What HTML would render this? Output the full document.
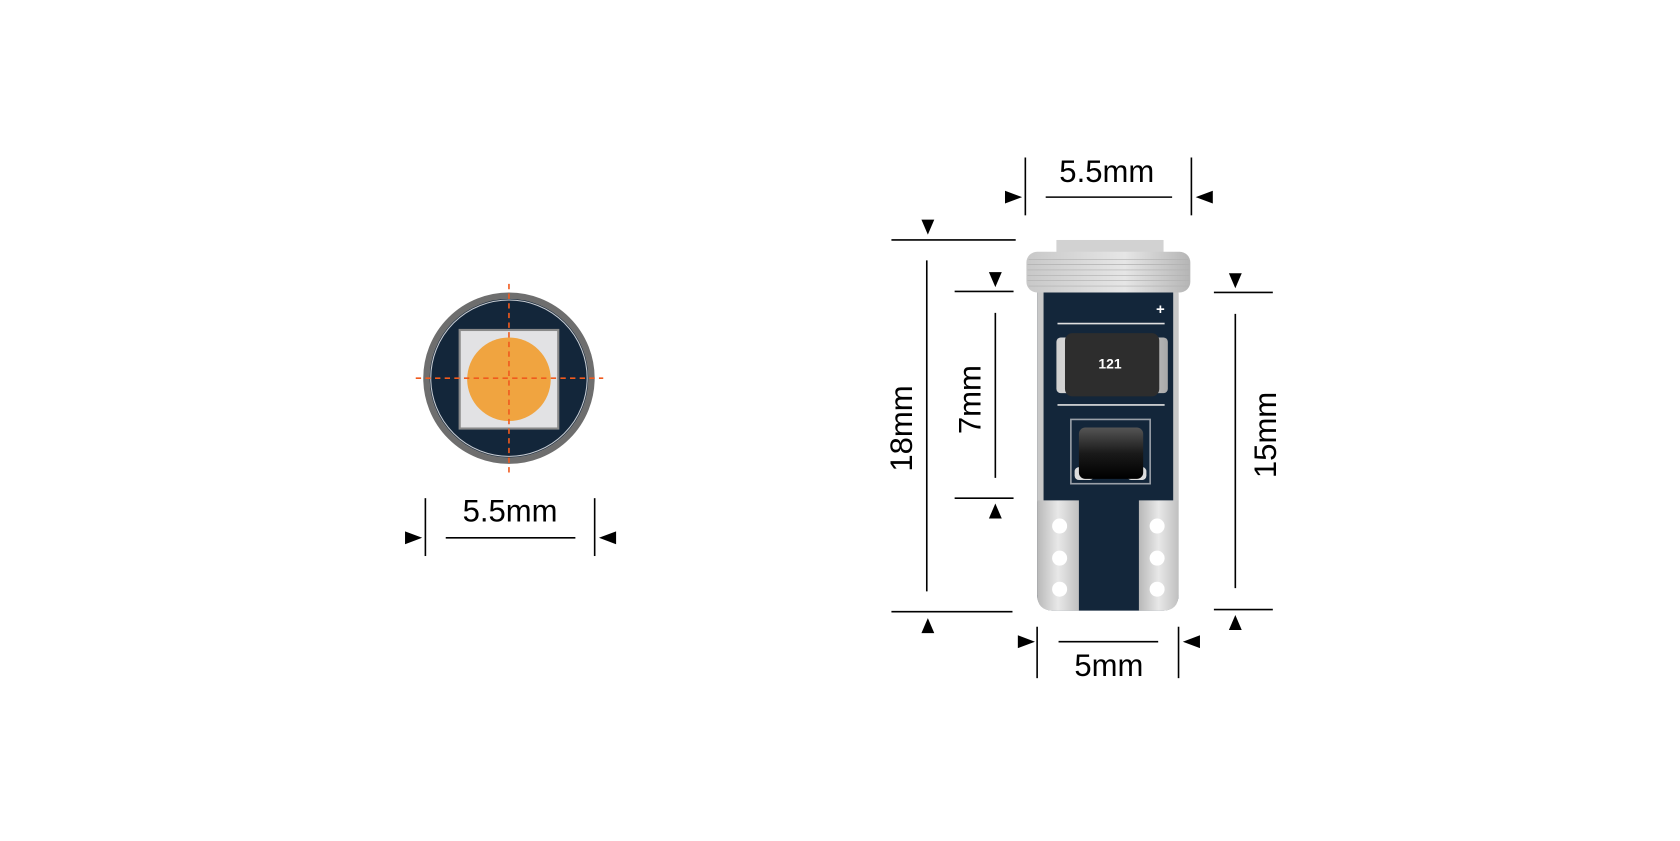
<!DOCTYPE html>
<html><head><meta charset="utf-8"><style>
html,body{margin:0;padding:0;background:#fff;}
svg{display:block;}
text{font-family:"Liberation Sans",Arial,sans-serif;fill:#000;}
</style></head><body>
<svg width="1680" height="841" viewBox="0 0 1568 785" xmlns="http://www.w3.org/2000/svg">
<defs>
<linearGradient id="silv" x1="0" y1="0" x2="1" y2="0">
<stop offset="0" stop-color="#cfcfcf"/><stop offset="0.5" stop-color="#f2f2f2"/><stop offset="1" stop-color="#a8a8a8"/></linearGradient>
<linearGradient id="collar" x1="0" y1="0" x2="1" y2="0">
<stop offset="0" stop-color="#c8c8c8"/><stop offset="0.6" stop-color="#e6e6e6"/><stop offset="1" stop-color="#b5b5b5"/></linearGradient>
<linearGradient id="pad" x1="0" y1="0" x2="1" y2="0">
<stop offset="0" stop-color="#b8b8b8"/><stop offset="0.5" stop-color="#e8e8e8"/><stop offset="1" stop-color="#c0c0c0"/></linearGradient>
<linearGradient id="diode" x1="0" y1="0" x2="0" y2="1">
<stop offset="0" stop-color="#555"/><stop offset="0.5" stop-color="#1a1a1a"/><stop offset="1" stop-color="#000"/></linearGradient>
</defs>

<!-- LEFT: top view -->
<circle cx="475" cy="353" r="77" fill="#13263a" stroke="#6e6e6e" stroke-width="6"/>
<circle cx="475" cy="353" r="73" fill="none" stroke="#c8ccd2" stroke-width="1"/>
<rect x="429" y="308" width="92" height="92" fill="#e2e2e4" stroke="#8a8a8a" stroke-width="2"/>
<circle cx="475" cy="354" r="39" fill="#f0a440"/>
<line x1="388" y1="353" x2="563" y2="353" stroke="#f05a1e" stroke-width="1.5" stroke-dasharray="5,4"/>
<line x1="475" y1="265" x2="475" y2="442" stroke="#f05a1e" stroke-width="1.5" stroke-dasharray="5,4"/>
<line x1="397" y1="465" x2="397" y2="519" stroke="#000" stroke-width="1.5"/>
<line x1="555" y1="465" x2="555" y2="519" stroke="#000" stroke-width="1.5"/>
<line x1="416" y1="502" x2="537" y2="502" stroke="#000" stroke-width="1.5"/>
<polygon points="378,496 394,502 378,508" fill="#000"/>
<polygon points="575,496 559,502 575,508" fill="#000"/>
<text x="476" y="487" font-size="29" text-anchor="middle">5.5mm</text>

<!-- RIGHT: side view -->
<rect x="986" y="224" width="100" height="14" fill="#d2d2d2"/>
<rect x="968" y="260" width="132" height="310" rx="14" fill="#13263a"/>
<rect x="968" y="260" width="132" height="310" rx="14" fill="none"/>
<rect x="968" y="268" width="6" height="200" fill="#c8c8c8"/>
<rect x="1095" y="268" width="5" height="200" fill="#c8c8c8"/>
<path d="M968,467 H1007 V570 H983 Q968,570 968,555 Z" fill="url(#pad)"/>
<path d="M1063,467 H1100 V555 Q1100,570 1085,570 H1063 Z" fill="url(#pad)"/>
<rect x="958" y="235" width="153" height="38" rx="10" fill="url(#collar)"/>
<g stroke="#b0b0b0" stroke-width="0.6">
<line x1="960" y1="242" x2="1109" y2="242"/><line x1="959" y1="247" x2="1110" y2="247"/>
<line x1="959" y1="252" x2="1110" y2="252"/><line x1="959" y1="257" x2="1110" y2="257"/>
<line x1="959" y1="262" x2="1110" y2="262"/><line x1="960" y1="267" x2="1109" y2="267"/>
</g>
<g fill="#fff">
<circle cx="989" cy="491" r="7"/><circle cx="989" cy="521" r="7"/><circle cx="989" cy="550" r="7"/>
<circle cx="1080" cy="491" r="7"/><circle cx="1080" cy="521" r="7"/><circle cx="1080" cy="550" r="7"/>
</g>
<text x="1083" y="293" font-size="14" font-weight="bold" text-anchor="middle" style="fill:#fff">+</text>
<line x1="987" y1="302" x2="1087" y2="302" stroke="#e0e0e0" stroke-width="1.5"/>
<line x1="987" y1="378" x2="1087" y2="378" stroke="#e0e0e0" stroke-width="1.5"/>
<rect x="986" y="315" width="104" height="52" rx="4" fill="url(#silv)"/>
<rect x="994" y="311" width="88" height="59" rx="7" fill="#2d2d2d"/>
<text x="1036" y="344" font-size="13" font-weight="bold" text-anchor="middle" style="fill:#fff">121</text>
<rect x="999.5" y="391.5" width="74" height="60" fill="none" stroke="#9aa0a8" stroke-width="1.5"/>
<rect x="1003" y="436" width="18" height="12" rx="4" fill="#ddd"/>
<rect x="1052" y="436" width="18" height="12" rx="4" fill="#ddd"/>
<rect x="1007" y="399" width="60" height="48" rx="6" fill="url(#diode)"/>

<!-- dimensions right -->
<g stroke="#000" stroke-width="1.5">
<line x1="957" y1="147" x2="957" y2="201"/><line x1="1112" y1="147" x2="1112" y2="201"/>
<line x1="976" y1="184" x2="1094" y2="184"/>
<line x1="832" y1="224" x2="948" y2="224"/><line x1="832" y1="571" x2="945" y2="571"/>
<line x1="865" y1="243" x2="865" y2="552"/>
<line x1="891" y1="272" x2="946" y2="272"/><line x1="891" y1="465" x2="946" y2="465"/>
<line x1="929" y1="292" x2="929" y2="446"/>
<line x1="1133" y1="273" x2="1188" y2="273"/><line x1="1133" y1="569" x2="1188" y2="569"/>
<line x1="1153" y1="293" x2="1153" y2="549"/>
<line x1="968" y1="585" x2="968" y2="633"/><line x1="1100" y1="585" x2="1100" y2="633"/>
<line x1="988" y1="599" x2="1081" y2="599"/>
</g>
<g fill="#000">
<polygon points="938,178 954,184 938,190"/><polygon points="1132,178 1116,184 1132,190"/>
<polygon points="860,205 872,205 866,219"/><polygon points="860,591 872,591 866,577"/>
<polygon points="923,254 935,254 929,268"/><polygon points="923,484 935,484 929,470"/>
<polygon points="1147,255 1159,255 1153,269"/><polygon points="1147,588 1159,588 1153,574"/>
<polygon points="950,593 966,599 950,605"/><polygon points="1120,593 1104,599 1120,605"/>
</g>
<text x="1033" y="170" font-size="29" text-anchor="middle">5.5mm</text>
<text x="1035" y="631" font-size="29" text-anchor="middle">5mm</text>
<text transform="translate(851,400) rotate(-90)" font-size="29" text-anchor="middle">18mm</text>
<text transform="translate(915,373) rotate(-90)" font-size="29" text-anchor="middle">7mm</text>
<text transform="translate(1191,406) rotate(-90)" font-size="29" text-anchor="middle">15mm</text>
</svg>
</body></html>
